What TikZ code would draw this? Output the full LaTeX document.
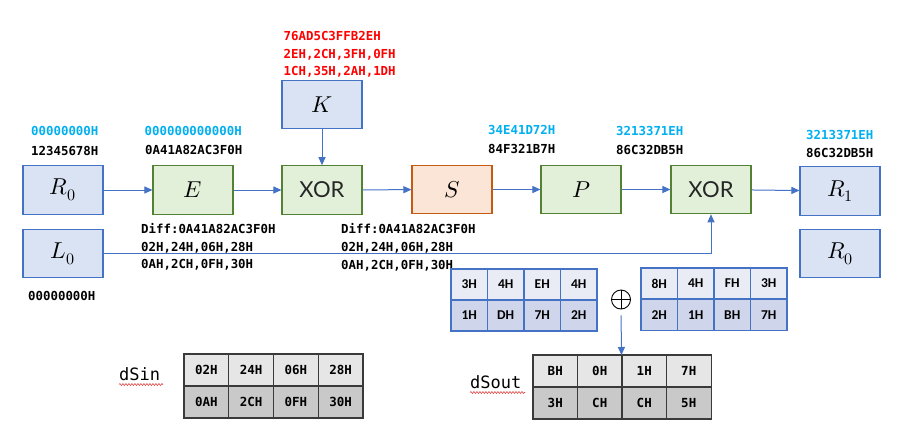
\documentclass[tikz,border=0pt]{standalone}
\usepackage{fontspec}
\usepackage{unicode-math}
\setmathfont{Latin Modern Math}
\usetikzlibrary{arrows.meta,decorations.pathmorphing}
\newfontfamily\hexfont{DejaVu Sans Mono}
\newfontfamily\calfont{Carlito}
\newfontfamily\xorfont{Lato}
\definecolor{bdr}{HTML}{4472C4}
\definecolor{bfill}{HTML}{DAE3F3}
\definecolor{gdr}{HTML}{548235}
\definecolor{gfill}{HTML}{E2F0D9}
\definecolor{odr}{HTML}{C55A11}
\definecolor{ofill}{HTML}{FBE5D6}
\definecolor{arrc}{HTML}{4472C4}
\definecolor{cyanc}{HTML}{00B0F0}
\definecolor{redc}{HTML}{FF0000}
\definecolor{tA}{HTML}{E9EBF5}
\definecolor{tB}{HTML}{CFD5EA}
\definecolor{gA}{HTML}{E7E6E6}
\definecolor{gB}{HTML}{C9C9C9}
\definecolor{gdrk}{HTML}{3A3A3A}
\definecolor{wavy}{HTML}{E04848}
\tikzset{
  boxbase/.style={line width=1.1pt, minimum width=80pt, minimum height=48.5pt, inner sep=0pt, font=\fontsize{23}{27}\selectfont},
  bluebox/.style={boxbase, draw=bdr, fill=bfill},
  greenbox/.style={boxbase, draw=gdr, fill=gfill},
  orangebox/.style={boxbase, draw=odr, fill=ofill},
  xortext/.style={font=\xorfont\fontsize{22}{26}\selectfont, text=black!85},
  arr/.style={draw=arrc, line width=1pt, -{Triangle[length=8pt,width=7pt]}},
  hex/.style={font=\hexfont\bfseries\fontsize{12.4}{15}\selectfont, anchor=base west, inner sep=0pt, text=black},
  hexcy/.style={hex, text=cyanc},
  hexred/.style={hex, text=redc},
  bcell/.style={draw=bdr, line width=1.2pt, minimum width=36.5pt, minimum height=31pt, inner sep=0pt, font=\calfont\bfseries\fontsize{13.5}{16}\selectfont},
  bcellA/.style={bcell, fill=tA},
  bcellB/.style={bcell, fill=tB},
  gcell/.style={draw=gdrk, line width=1.2pt, minimum width=44.7pt, minimum height=32pt, inner sep=0pt, font=\hexfont\bfseries\fontsize{12.5}{15}\selectfont},
  gcellA/.style={gcell, fill=gA},
  gcellB/.style={gcell, fill=gB},
  lbl/.style={font=\hexfont\fontsize{17}{20}\selectfont, anchor=base west, inner sep=0pt},
  squig/.style={draw=wavy, line width=0.6pt, decorate, decoration={snake, amplitude=1pt, segment length=3pt}}
}
\begin{document}
\begin{tikzpicture}[x=1pt,y={(0pt,-1pt)}]
\useasboundingbox (0,0) rectangle (916,429);
\fill[white] (0,0) rectangle (916,429);
% boxes
\node[bluebox] (R0) at (63,190) {$R_0$};
\node[greenbox] (E) at (193,190) {$E$};
\node[bluebox] (L0) at (63,253.5) {$L_0$};
\node[bluebox] (K) at (322,104.5) {$K$};
\node[greenbox] (X1) at (322,190) {};
\node[xortext] at (X1) {XOR};
\node[orangebox] (S) at (452,189.5) {$S$};
\node[greenbox] (P) at (581,189.5) {$P$};
\node[greenbox] (X2) at (711,189.5) {};
\node[xortext] at (X2) {XOR};
\node[bluebox] (R1) at (840,191) {$R_1$};
\node[bluebox] (R0b) at (840,253.5) {$R_0$};
% connectors
\draw[arr] (R0) -- (E);
\draw[arr] (E) -- (X1);
\draw[arr] (K) -- (X1);
\draw[arr] (X1) -- (S);
\draw[arr] (S) -- (P);
\draw[arr] (P) -- (X2);
\draw[arr] (X2) -- (R1);
\draw[arr] (L0.east) -| (X2.south);
% texts
\node[hexcy] (t1) at (31,135) {00000000H};
\node[hex] (t2) at (31,155) {12345678H};
\node[hexcy] (t3) at (144.5,135) {000000000000H};
\node[hex] (t4) at (145,154.5) {0A41A82AC3F0H};
\node[hex] (t5) at (28,300) {00000000H};
\node[hexred] (k1) at (283.5,40) {76AD5C3FFB2EH};
\node[hexred] (k2) at (283.5,58) {2EH,2CH,3FH,0FH};
\node[hexred] (k3) at (283.5,75.5) {1CH,35H,2AH,1DH};
\node[hex] (d1) at (141,233) {Diff:0A41A82AC3F0H};
\node[hex] (d2) at (141,251) {02H,24H,06H,28H};
\node[hex] (d3) at (141,268) {0AH,2CH,0FH,30H};
\node[hex] (e1) at (341,233.5) {Diff:0A41A82AC3F0H};
\node[hex] (e2) at (341,251.5) {02H,24H,06H,28H};
\node[hex] (e3) at (341,269) {0AH,2CH,0FH,30H};
\node[hexcy] (s1) at (488,134.5) {34E41D72H};
\node[hex] (s2) at (488,153) {84F321B7H};
\node[hexcy] (p1) at (616,135.5) {3213371EH};
\node[hex] (p2) at (616,154) {86C32DB5H};
\node[hexcy] (r1) at (806,139) {3213371EH};
\node[hex] (r2) at (806,157) {86C32DB5H};
% blue tables
\foreach \t [count=\i] in {3H,4H,EH,4H}
  \node[bcellA] (ta-1-\i) at ({451+36.5*(\i-0.5)},284.5) {\t};
\foreach \t [count=\i] in {1H,DH,7H,2H}
  \node[bcellB] (ta-2-\i) at ({451+36.5*(\i-0.5)},315.5) {\t};
\foreach \t [count=\i] in {8H,4H,FH,3H}
  \node[bcellA] (tb-1-\i) at ({641+36.5*(\i-0.5)},283.5) {\t};
\foreach \t [count=\i] in {2H,1H,BH,7H}
  \node[bcellB] (tb-2-\i) at ({641+36.5*(\i-0.5)},315) {\t};
% xor symbol
\node[circle, draw=black, line width=0.9pt, minimum size=19pt, inner sep=0pt] (ox) at (621,299.5) {};
\draw[line width=0.9pt] (ox.north) -- (ox.south) (ox.west) -- (ox.east);
% gray tables
\foreach \t [count=\i] in {02H,24H,06H,28H}
  \node[gcellA] (sa-1-\i) at ({184+44.75*(\i-0.5)},370) {\t};
\foreach \t [count=\i] in {0AH,2CH,0FH,30H}
  \node[gcellB] (sa-2-\i) at ({184+44.75*(\i-0.5)},402) {\t};
\foreach \t [count=\i] in {BH,0H,1H,7H}
  \node[gcellA] (so-1-\i) at ({533+44.5*(\i-0.5)},371) {\t};
\foreach \t [count=\i] in {3H,CH,CH,5H}
  \node[gcellB] (so-2-\i) at ({533+44.5*(\i-0.5)},403) {\t};
\coordinate (soTop) at (621.5,355);
\draw[arr, shorten <=6pt] (ox.south) -- (soTop);
% labels
\node[lbl] (lin) at (119,380) {dSin};
\draw[squig] (119,384.5) -- (163,384.5);
\node[lbl] (lout) at (470,388) {dSout};
\draw[squig] (470,392.5) -- (525,392.5);
\end{tikzpicture}
\end{document}
